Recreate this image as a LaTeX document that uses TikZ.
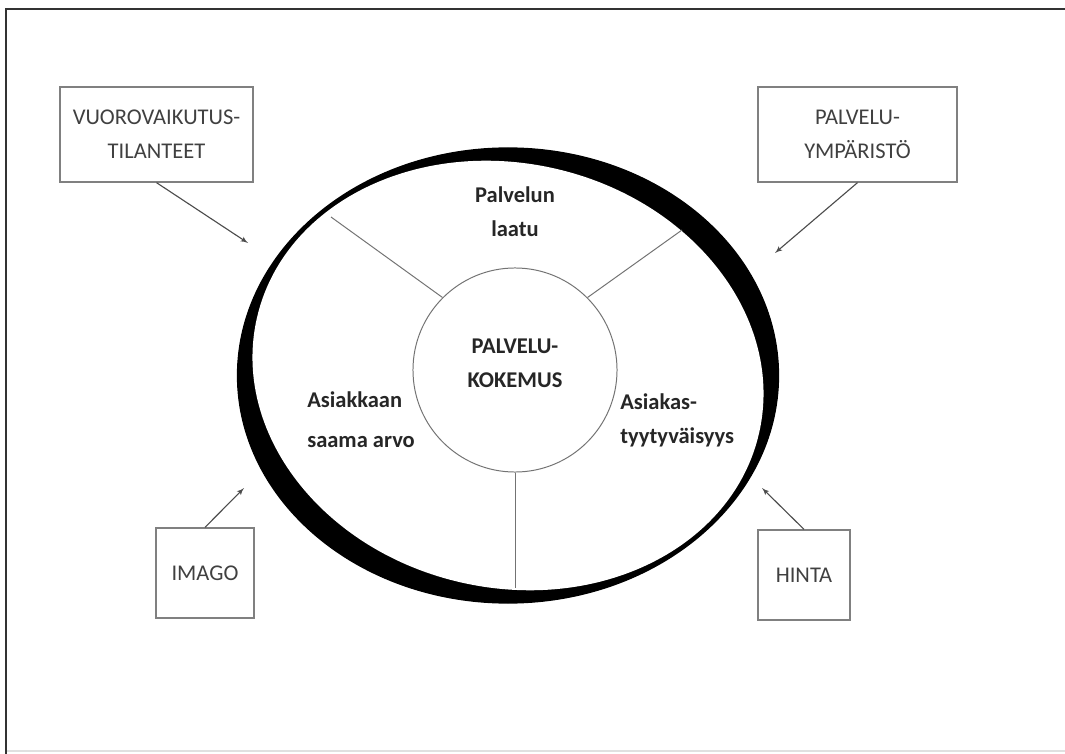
\documentclass[tikz,border=0pt]{standalone}
\usepackage{fontspec}
\setmainfont{Carlito}
\usepackage{tikz}
\usetikzlibrary{arrows}
\usetikzlibrary{positioning}

\begin{document}
\begin{tikzpicture}
      [x=0.025cm,y=-0.025cm,
       factor/.style={rectangle,draw=black!50,line width=0.9pt,text=black!75,align=center,font=\fontsize{16}{24}\selectfont},
       part/.style={inner sep=0pt,text=black!85,font=\bfseries\fontsize{16}{24}\selectfont},
       spoke/.style={draw=black!55,line width=0.7pt},
       influence/.style={-latex',draw=black!70,line width=0.8pt}]
      \useasboundingbox (0,0) rectangle (1065,754);
      % frame
      \draw[black!12,line width=2pt] (6,751) -- (1065,751);
      \draw[black!80,line width=1.5pt] (6,754) -- (6,9) -- (1065,9);
      % ring
      \coordinate (ringc) at (508,375.5);
      \fill[black] (ringc) ellipse (270.5 and 227.5);
      \fill[white,rotate around={-13:(ringc)}] (ringc) ellipse (257.6 and 212.2);
      \draw[line width=0.9pt] (ringc) ellipse (270.5 and 227.5);
      % place nodes
      \node[circle,draw=black!55,line width=0.7pt,minimum size=5.1cm,inner sep=0pt] (kokemus) at (515,370) {};
      \node[part,align=center] (kokemustxt) at (515,363) {PALVELU-\\KOKEMUS};
      \node[part,align=center] (laatu) at (515,212) {Palvelun\\laatu};
      \node[part,align=left,anchor=west,font=\bfseries\fontsize{16}{28.5}\selectfont] (arvo) at (307,420) {Asiakkaan\\saama arvo};
      \node[part,align=left,anchor=west] (tyytyvaisyys) at (620,420) {Asiakas-\\tyytyväisyys};
      \node[factor,minimum width=4.825cm,minimum height=2.375cm] (vuoro) at (156.5,134.5) {VUOROVAIKUTUS-\\TILANTEET};
      \node[factor,minimum width=4.975cm,minimum height=2.375cm] (ymparisto) at (857.5,134.5) {PALVELU-\\YMPÄRISTÖ};
      \node[factor,minimum width=2.45cm,minimum height=2.25cm] (imago) at (205,573) {IMAGO};
      \node[factor,minimum width=2.3cm,minimum height=2.25cm] (hinta) at (804,575) {HINTA};
      \coordinate (ringtl) at (331,217);
      \coordinate (ringtr) at (682,230);
      \coordinate (ringbt) at (515,588);
      \coordinate (vuorotip) at (248,243);
      \coordinate (ymparistotip) at (775,253);
      \coordinate (imagotip) at (244,488);
      \coordinate (hintatip) at (762,488);
      % add edges
      \draw[spoke] (kokemus.135) -- (ringtl);
      \draw[spoke] (kokemus.45) -- (ringtr);
      \draw[spoke] (kokemus.south) -- (ringbt);
      \draw[influence] (vuoro.south) -- (vuorotip);
      \draw[influence] (ymparisto.south) -- (ymparistotip);
      \draw[influence] (imago.north) -- (imagotip);
      \draw[influence] (hinta.north) -- (hintatip);
    \end{tikzpicture}
\end{document}
